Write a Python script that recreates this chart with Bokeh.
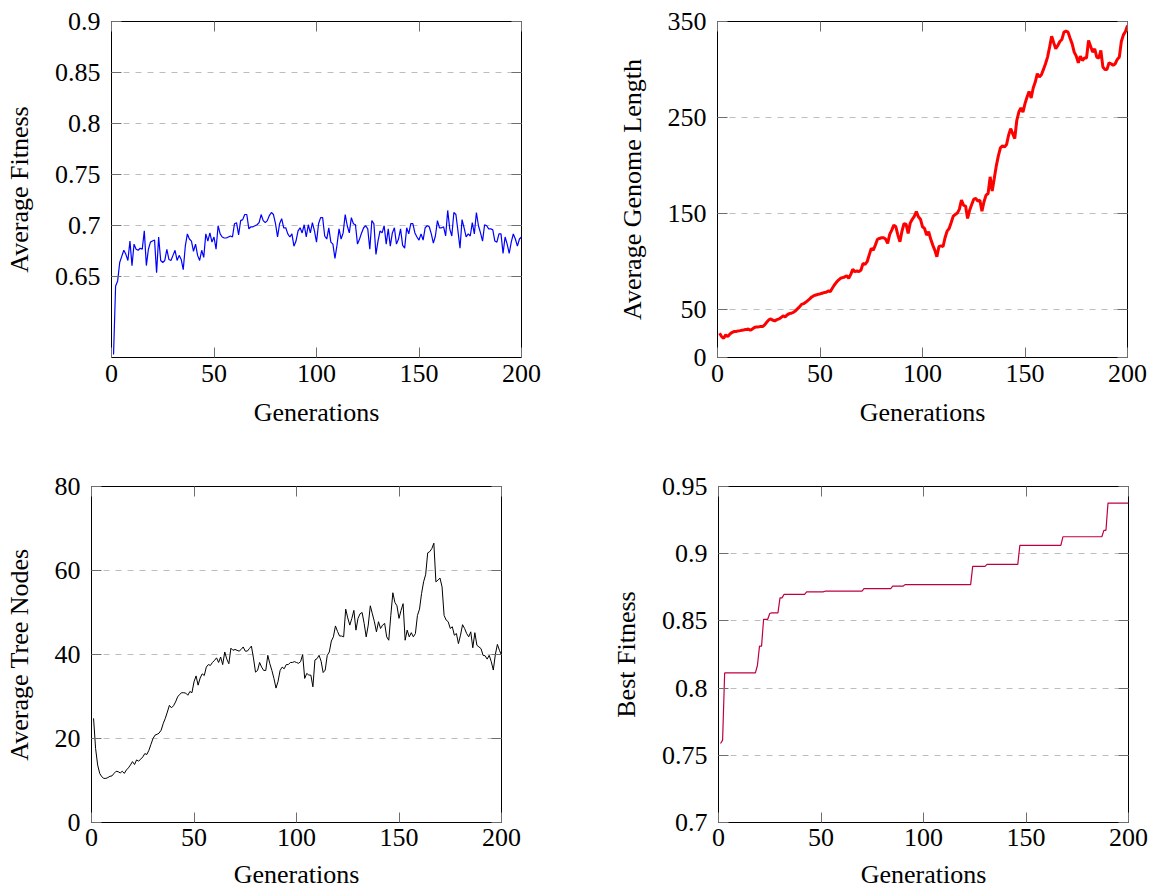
from bokeh.plotting import figure
from bokeh.models import LinearAxis, FixedTicker, Range1d, CustomJSTickFormatter
from bokeh.layouts import column, row
from bokeh.embed import file_html
from bokeh.resources import INLINE

# ---------------- data ----------------
generations = list(range(1, 201))

avg_fitness = [
    0.574, 0.641, 0.646, 0.664, 0.670, 0.676, 0.672, 0.666, 0.685, 0.661,
    0.682, 0.677, 0.676, 0.678, 0.677, 0.695, 0.661, 0.677, 0.684, 0.685,
    0.686, 0.654, 0.689, 0.666, 0.664, 0.666, 0.677, 0.667, 0.666, 0.671,
    0.676, 0.666, 0.671, 0.667, 0.657, 0.680, 0.692, 0.687, 0.685, 0.675,
    0.682, 0.671, 0.666, 0.676, 0.669, 0.692, 0.685, 0.693, 0.684, 0.689,
    0.677, 0.700, 0.692, 0.689, 0.688, 0.688, 0.689, 0.690, 0.689, 0.702,
    0.703, 0.691, 0.705, 0.706, 0.711, 0.711, 0.697, 0.699, 0.699, 0.700,
    0.701, 0.703, 0.711, 0.705, 0.703, 0.705, 0.710, 0.713, 0.711, 0.702,
    0.689, 0.702, 0.707, 0.698, 0.698, 0.692, 0.689, 0.692, 0.680, 0.685,
    0.695, 0.698, 0.693, 0.701, 0.689, 0.701, 0.693, 0.703, 0.695, 0.684,
    0.702, 0.708, 0.708, 0.690, 0.687, 0.698, 0.684, 0.682, 0.668, 0.681,
    0.697, 0.687, 0.693, 0.711, 0.700, 0.693, 0.708, 0.702, 0.701, 0.682,
    0.687, 0.693, 0.698, 0.700, 0.697, 0.677, 0.705, 0.702, 0.672, 0.685,
    0.695, 0.693, 0.700, 0.682, 0.697, 0.680, 0.693, 0.698, 0.682, 0.687,
    0.697, 0.681, 0.678, 0.698, 0.692, 0.702, 0.702, 0.693, 0.689, 0.686,
    0.692, 0.686, 0.698, 0.700, 0.699, 0.692, 0.683, 0.690, 0.705, 0.698,
    0.698, 0.699, 0.690, 0.715, 0.697, 0.690, 0.713, 0.711, 0.695, 0.678,
    0.706, 0.698, 0.689, 0.692, 0.690, 0.703, 0.692, 0.713, 0.700, 0.693,
    0.685, 0.701, 0.700, 0.697, 0.697, 0.696, 0.685, 0.684, 0.692, 0.692,
    0.673, 0.689, 0.682, 0.673, 0.684, 0.692, 0.687, 0.680, 0.687, 0.689,
]

avg_genome_length = [
    25.3, 21.8, 20.1, 23.6, 21.8, 24.3, 26.0, 27.0, 27.0, 27.7,
    28.0, 28.4, 28.8, 29.1, 29.8, 28.4, 29.8, 31.2, 31.9, 31.9,
    32.2, 32.2, 34.0, 36.7, 39.2, 40.2, 38.8, 38.1, 39.5, 40.2,
    41.6, 43.3, 42.3, 44.4, 45.7, 46.1, 47.1, 48.5, 50.6, 52.7,
    55.4, 56.1, 57.5, 59.3, 61.0, 63.1, 64.4, 65.1, 65.8, 66.2,
    66.9, 67.6, 67.9, 69.3, 68.6, 72.1, 75.5, 78.3, 80.7, 82.5,
    83.2, 83.9, 85.2, 82.5, 86.6, 91.8, 89.4, 90.1, 89.4, 91.1,
    98.1, 97.0, 99.8, 106.7, 113.7, 111.9, 117.1, 123.0, 124.0, 124.7,
    124.7, 123.4, 118.9, 128.2, 132.7, 137.9, 136.2, 127.5, 120.6, 131.7,
    139.6, 138.6, 129.2, 140.0, 144.0, 147.0, 152.0, 146.6, 144.1, 136.2,
    134.4, 127.5, 131.0, 123.4, 117.1, 111.9, 105.0, 115.4, 116.4, 115.4,
    124.7, 131.7, 134.4, 140.7, 147.3, 149.0, 150.4, 154.5, 163.9, 158.7,
    157.7, 144.8, 153.5, 159.4, 164.9, 165.6, 162.9, 163.9, 152.5, 162.2,
    169.1, 170.8, 188.2, 173.3, 186.4, 199.6, 210.0, 218.3, 220.4, 219.3,
    221.8, 231.5, 238.4, 233.2, 228.0, 247.1, 255.7, 259.9, 255.7, 264.4,
    271.3, 277.2, 270.3, 280.7, 286.9, 295.6, 292.1, 294.5, 300.1, 306.0,
    312.9, 323.3, 334.7, 327.8, 321.6, 325.0, 329.2, 331.3, 338.9, 339.9,
    338.9, 332.6, 326.7, 318.1, 313.9, 307.0, 313.9, 309.4, 311.9, 311.9,
    330.2, 324.3, 318.1, 321.6, 312.9, 311.9, 319.8, 302.5, 300.1, 300.1,
    307.0, 306.0, 304.2, 306.0, 310.5, 312.9, 329.2, 336.1, 339.6, 345.8,
]

avg_tree_nodes = [
    24.8, 17.6, 13.7, 11.7, 10.9, 10.5, 10.5, 10.7, 11.0, 11.1,
    11.7, 12.2, 12.1, 11.8, 12.2, 11.7, 12.5, 13.0, 13.7, 14.5,
    13.8, 14.9, 14.6, 15.1, 15.6, 16.4, 16.2, 17.2, 18.6, 20.0,
    20.8, 21.0, 21.3, 22.0, 23.6, 24.8, 26.3, 27.9, 27.3, 27.8,
    28.7, 29.9, 30.5, 30.9, 30.9, 30.8, 30.3, 31.2, 30.9, 33.5,
    34.9, 32.7, 34.4, 35.4, 35.0, 37.0, 37.6, 37.4, 38.1, 38.6,
    39.2, 38.1, 39.4, 37.6, 40.6, 38.9, 37.8, 41.5, 41.0, 41.2,
    41.0, 40.8, 41.2, 41.8, 40.8, 40.8, 41.4, 42.0, 39.2, 35.8,
    36.2, 38.1, 37.0, 36.2, 36.2, 39.8, 37.8, 36.2, 34.3, 32.0,
    33.6, 36.2, 37.0, 36.6, 37.6, 37.6, 38.1, 38.1, 38.3, 38.1,
    37.9, 38.3, 40.0, 34.3, 35.5, 35.1, 35.1, 32.3, 38.7, 39.0,
    39.8, 38.4, 35.7, 36.3, 39.8, 40.6, 43.2, 44.2, 46.8, 45.5,
    44.4, 44.4, 44.2, 50.8, 48.7, 47.0, 48.6, 50.5, 45.8, 48.6,
    49.7, 50.0, 47.4, 44.2, 47.0, 51.6, 49.7, 47.8, 45.4, 47.8,
    46.2, 47.0, 47.4, 44.2, 43.4, 49.3, 54.7, 52.4, 51.6, 48.6,
    50.5, 52.1, 43.4, 45.8, 44.2, 45.2, 44.2, 45.0, 49.3, 50.8,
    54.5, 57.3, 59.0, 64.2, 64.5, 65.2, 66.5, 57.3, 57.7, 58.2,
    56.1, 49.3, 48.2, 47.8, 46.2, 46.6, 44.6, 45.0, 42.6, 44.6,
    47.1, 46.2, 45.0, 44.2, 45.4, 41.6, 45.2, 42.2, 41.8, 41.4,
    39.8, 39.7, 38.9, 39.8, 38.3, 36.3, 40.0, 42.4, 41.0, 39.8,
]

best_fitness = [
    0.7588, 0.7613, 0.8113, 0.8113, 0.8113, 0.8113, 0.8113, 0.8113, 0.8113, 0.8113,
    0.8113, 0.8113, 0.8113, 0.8113, 0.8113, 0.8113, 0.8113, 0.8113, 0.8170, 0.8312,
    0.8312, 0.8512, 0.8512, 0.8512, 0.8555, 0.8560, 0.8560, 0.8560, 0.8560, 0.8671,
    0.8671, 0.8698, 0.8698, 0.8698, 0.8698, 0.8698, 0.8698, 0.8698, 0.8698, 0.8698,
    0.8698, 0.8698, 0.8716, 0.8716, 0.8716, 0.8716, 0.8716, 0.8716, 0.8716, 0.8716,
    0.8716, 0.8721, 0.8721, 0.8721, 0.8721, 0.8721, 0.8721, 0.8721, 0.8721, 0.8721,
    0.8721, 0.8721, 0.8721, 0.8721, 0.8721, 0.8721, 0.8721, 0.8721, 0.8721, 0.8721,
    0.8740, 0.8740, 0.8740, 0.8740, 0.8740, 0.8740, 0.8740, 0.8740, 0.8740, 0.8740,
    0.8740, 0.8740, 0.8740, 0.8740, 0.8758, 0.8758, 0.8758, 0.8758, 0.8758, 0.8758,
    0.8770, 0.8770, 0.8770, 0.8770, 0.8770, 0.8770, 0.8770, 0.8770, 0.8770, 0.8770,
    0.8770, 0.8770, 0.8770, 0.8770, 0.8770, 0.8770, 0.8770, 0.8770, 0.8770, 0.8770,
    0.8770, 0.8770, 0.8770, 0.8770, 0.8770, 0.8770, 0.8770, 0.8770, 0.8770, 0.8770,
    0.8770, 0.8770, 0.8770, 0.8906, 0.8906, 0.8906, 0.8906, 0.8906, 0.8906, 0.8906,
    0.8921, 0.8921, 0.8921, 0.8921, 0.8921, 0.8921, 0.8921, 0.8921, 0.8921, 0.8921,
    0.8921, 0.8921, 0.8921, 0.8921, 0.8921, 0.8921, 0.9062, 0.9062, 0.9062, 0.9062,
    0.9062, 0.9062, 0.9062, 0.9062, 0.9062, 0.9062, 0.9062, 0.9062, 0.9062, 0.9062,
    0.9062, 0.9062, 0.9062, 0.9062, 0.9062, 0.9062, 0.9062, 0.9126, 0.9126, 0.9126,
    0.9126, 0.9126, 0.9126, 0.9126, 0.9126, 0.9126, 0.9126, 0.9126, 0.9126, 0.9126,
    0.9126, 0.9126, 0.9126, 0.9126, 0.9126, 0.9126, 0.9126, 0.9174, 0.9174, 0.9377,
    0.9377, 0.9377, 0.9377, 0.9377, 0.9377, 0.9377, 0.9377, 0.9377, 0.9377, 0.9377,
]

x_ticks = [0, 50, 100, 150, 200]
x_tick_labels = ["0", "50", "100", "150", "200"]

fit_ticks = [0.65, 0.7, 0.75, 0.8, 0.85, 0.9]
fit_tick_labels = ["0.65", "0.7", "0.75", "0.8", "0.85", "0.9"]

len_ticks = [0, 50, 150, 250, 350]
len_tick_labels = ["0", "50", "150", "250", "350"]

node_ticks = [0, 20, 40, 60, 80]
node_tick_labels = ["0", "20", "40", "60", "80"]

best_ticks = [0.7, 0.75, 0.8, 0.85, 0.9, 0.95]
best_tick_labels = ["0.7", "0.75", "0.8", "0.85", "0.9", "0.95"]

# ---------------- styling ----------------
FONT = "Liberation Serif"
FS = "26px"
TICK_COLOR = "#6e6e6e"
GRID_COLOR = "#bdbdbd"
FRAME_W = 410
FRAME_H = 336


def fmt(ticks, labels):
    return CustomJSTickFormatter(
        args=dict(t=ticks, l=labels),
        code="const i = t.findIndex(v => Math.abs(v - tick) < 1e-9); return i >= 0 ? l[i] : '';",
    )


def style_axis(ax):
    ax.axis_line_color = None
    ax.major_tick_in = 10
    ax.major_tick_out = 0
    ax.major_tick_line_color = TICK_COLOR
    ax.major_tick_line_width = 1
    ax.minor_tick_line_color = None


def mirror(p, ticks, side):
    ax = LinearAxis(ticker=FixedTicker(ticks=ticks))
    style_axis(ax)
    ax.major_label_text_font_size = "0px"
    ax.major_label_text_color = None
    ax.major_label_standoff = 0
    p.add_layout(ax, side)


def make_panel(bl, bt, bb, yr, yticks, ylabels, ydata, ylabel, color, lw, xs1, xs2):
    br = 22
    p = figure(
        width=bl + FRAME_W + br,
        height=bt + FRAME_H + bb,
        x_range=Range1d(0, 200),
        y_range=Range1d(*yr),
        output_backend="svg",
        toolbar_location=None,
        min_border_left=bl,
        min_border_right=br,
        min_border_top=bt,
        min_border_bottom=bb,
    )
    p.line(generations, ydata, line_color=color, line_width=lw)

    p.outline_line_color = "black"
    p.outline_line_width = 1
    p.background_fill_color = "white"
    p.border_fill_color = "white"

    p.xaxis.ticker = FixedTicker(ticks=x_ticks)
    p.xaxis.formatter = fmt(x_ticks, x_tick_labels)
    p.yaxis.ticker = FixedTicker(ticks=yticks)
    p.yaxis.formatter = fmt(yticks, ylabels)
    for ax in (p.xaxis[0], p.yaxis[0]):
        style_axis(ax)
        ax.major_label_text_font = FONT
        ax.major_label_text_font_size = FS
        ax.major_label_text_color = "black"
        ax.axis_label_text_font = FONT
        ax.axis_label_text_font_size = FS
        ax.axis_label_text_font_style = "normal"
        ax.axis_label_text_color = "black"
    p.xaxis.axis_label = "Generations"
    p.yaxis.axis_label = ylabel
    p.xaxis.major_label_standoff = xs1
    p.xaxis.axis_label_standoff = xs2
    p.yaxis.major_label_standoff = 11
    p.yaxis.axis_label_standoff = 18

    p.xgrid.visible = False
    p.ygrid.grid_line_color = GRID_COLOR
    p.ygrid.grid_line_dash = "6 6"
    p.ygrid.grid_line_width = 1

    mirror(p, yticks, "right")
    mirror(p, x_ticks, "above")
    return p


TOP_BT, TOP_BB = 21, 84
BOT_BT, BOT_BB = 45, 71

p1 = make_panel(111, TOP_BT, TOP_BB, (0.571, 0.9), fit_ticks, fit_tick_labels,
                avg_fitness, "Average Fitness", "#0000ff", 1.2, 7, 13)
p2 = make_panel(717 - (111 + FRAME_W + 22), TOP_BT, TOP_BB, (0, 350), len_ticks, len_tick_labels,
                avg_genome_length, "Average Genome Length", "#ff0000", 3, 7, 13)
p3 = make_panel(91, BOT_BT, BOT_BB, (0, 80), node_ticks, node_tick_labels,
                avg_tree_nodes, "Average Tree Nodes", "black", 1, 6, 11)
p4 = make_panel(718 - (91 + FRAME_W + 22), BOT_BT, BOT_BB, (0.7, 0.95), best_ticks, best_tick_labels,
                best_fitness, "Best Fitness", "#bf0040", 1.2, 6, 11)

layout = column(row(p1, p2), row(p3, p4))

open("out.html", "w").write(file_html(layout, INLINE))
